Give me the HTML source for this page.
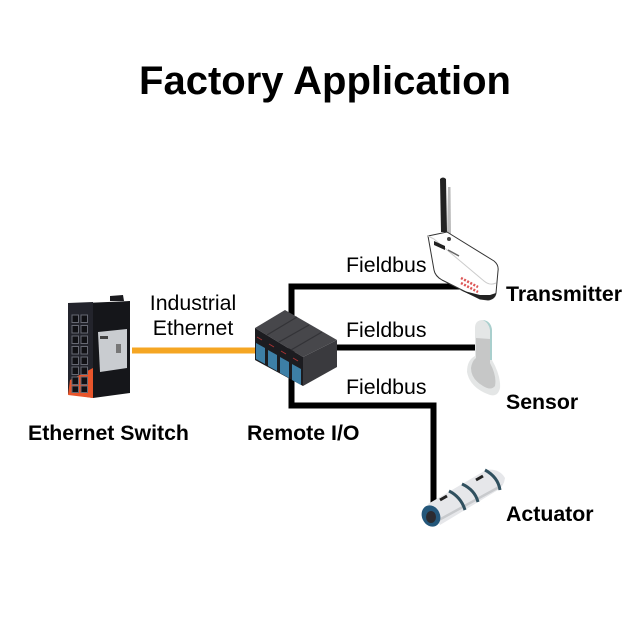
<!DOCTYPE html>
<html><head><meta charset="utf-8"><style>
html,body{margin:0;padding:0;background:#fff}
svg{display:block}
text{font-family:"Liberation Sans",sans-serif;fill:#000}
.b{font-weight:700;font-size:21.300px}
.r{font-size:21.300px}
</style></head><body>
<svg width="640" height="640" viewBox="0 0 640 640" xmlns="http://www.w3.org/2000/svg">
<rect width="640" height="640" fill="#fff"/>
<text x="325" y="94" text-anchor="middle" font-size="40" font-weight="700">Factory Application</text>

<!-- connectors -->
<rect x="132" y="347.500" width="125" height="6" fill="#f5a623"/>
<path d="M460 286.500H291.500V405.500H433.500V508" fill="none" stroke="#000" stroke-width="6"/>
<path d="M330 347.500H476" fill="none" stroke="#000" stroke-width="6"/>

<!-- switch -->
<path d="M110 301 L110 296 L123 295 L124 301Z" fill="#1a1a1e"/>
<path d="M85 303 L130 301 L130 393 L93 398 Z" fill="#15161a"/>
<path d="M68 303 L93 302 L93 398 L68 394 Z" fill="#23242c"/>
<path d="M68 395 L70 380 L93 368 L93 398Z" fill="#e8552b"/>
<g fill="#101014" stroke="#666872" stroke-width="1">
<rect x="72" y="315" width="6.500" height="7.500"/><rect x="81" y="315" width="6.500" height="7.500"/>
<rect x="72" y="325.500" width="6.500" height="7.500"/><rect x="81" y="325.500" width="6.500" height="7.500"/>
<rect x="72" y="336" width="6.500" height="7.500"/><rect x="81" y="336" width="6.500" height="7.500"/>
<rect x="72" y="346.500" width="6.500" height="7.500"/><rect x="81" y="346.500" width="6.500" height="7.500"/>
<rect x="72" y="357" width="6.500" height="7.500"/><rect x="81" y="357" width="6.500" height="7.500"/>
<rect x="72" y="367" width="6.500" height="7.500"/><rect x="81" y="367" width="6.500" height="7.500"/>
<rect x="72" y="377" width="6.500" height="7.500"/><rect x="81" y="377" width="6.500" height="7.500"/>
<rect x="72" y="386" width="6.500" height="6.500"/><rect x="81" y="386" width="6.500" height="6.500"/>
</g>
<path d="M98 332 L127 329 L127 368 L100 372 Z" fill="#c9ccd0"/>
<rect x="116" y="344" width="5" height="9" fill="#777"/>
<rect x="100" y="336" width="8" height="3" fill="#444"/>

<!-- remote io -->
<path d="M255 328 L285 310 L337 340 L303 357Z" fill="#47474b"/>
<path d="M303 357 L337 340 L337 367 L303 386Z" fill="#3a3a3e"/>
<path d="M255 328 L303 357 L303 386 L255 360Z" fill="#1c1c20"/>
<g stroke="#333337" stroke-width="1.200"><path d="M267 335L297 317"/><path d="M279 342L309 325"/><path d="M291 350L322 332"/></g>
<g fill="#3d7fa6">
<path d="M256 343 L265 348 L265 364 L256 359Z"/>
<path d="M268 350 L277 355 L277 371 L268 366Z"/>
<path d="M280 357 L289 362 L289 378 L280 373Z"/>
<path d="M292 364 L301 369 L301 385 L292 380Z"/>
</g>
<g stroke="#a33" stroke-width="1"><path d="M257 337l5 3M269 344l5 3M281 351l5 3M293 358l5 3"/></g>

<!-- transmitter -->
<path d="M440 179 Q443 176 446 179 L447 232 L441 232Z" fill="#222"/>
<path d="M448 187 L450.500 187 L451 234 L447 234Z" fill="#bbb"/>
<path d="M428 236 L447 232 L494 261 Q499 265 498 271 L496 293 Q495 299 488 300 L480 299 L442 280 Q435 276 434 270 Z" fill="#fff" stroke="#333" stroke-width="1"/>
<path d="M460 290 L480 299 L488 300 Q495 299 496 293 L490 295 L480 295Z" fill="#222"/>
<path d="M428 236 L434 239 L484 281 Q490 286 496 283" fill="none" stroke="#ccc" stroke-width="1"/>
<path d="M434 241 L445 246 L445 250 L434 245Z" fill="#222"/>
<path d="M448 250 L459 256" stroke="#666" stroke-width="1.500"/>
<path d="M461 278 L478 287 M461 283 L478 292" stroke="#d55" stroke-width="2.500" stroke-dasharray="2 1.500"/>
<circle cx="449" cy="239" r="2" fill="#444"/>

<!-- sensor -->
<path d="M475 328 Q475 320 483 320 Q491 321 492 330 L492 360 Q501 376 500 388 Q498 397 490 395 Q470 388 467 372 Q467 360 475 356Z" fill="#e4e6e6"/>
<path d="M483 320 Q491 321 492 330 L492 360 L490 360 L490 330 Q489 323 483 320Z" fill="#a9cfcd"/>
<path d="M476 338 L490 339 L490 363 Q497 376 495 386 Q491 391 483 386 Q471 379 471 368 Q472 361 476 358Z" fill="#c6c7c7"/>

<!-- actuator -->
<path d="M428 504 L486 470 Q499 468 505 478 Q504 486 498 490 L440 525 Z" fill="#e6e7ea"/>
<path d="M436 523 L498 489 L502 484 L440 518Z" fill="#c8cacd"/>
<g fill="none" stroke="#30505f" stroke-width="3">
<path d="M449 491 Q461 497 465 510"/>
<path d="M462 484 Q475 490 478 502"/>
<path d="M485 470 Q498 477 500 490"/>
</g>
<path d="M440 500l7-4M476 480l7-4" stroke="#222" stroke-width="3"/>
<ellipse cx="431" cy="516" rx="9" ry="11" fill="#24577a" transform="rotate(-25 431 516)"/>
<ellipse cx="431" cy="517" rx="5" ry="6" fill="#2b2b30"/>

<!-- labels -->
<text class="r" x="346" y="272">Fieldbus</text>
<text class="r" x="346" y="337">Fieldbus</text>
<text class="r" x="346" y="394">Fieldbus</text>
<text class="r" x="193" y="310" text-anchor="middle">Industrial</text>
<text class="r" x="193" y="335" text-anchor="middle">Ethernet</text>
<text class="b" x="506" y="301">Transmitter</text>
<text class="b" x="506" y="409">Sensor</text>
<text class="b" x="506" y="521">Actuator</text>
<text class="b" x="28" y="440">Ethernet Switch</text>
<text class="b" x="247" y="440">Remote I/O</text>
</svg>
</body></html>
